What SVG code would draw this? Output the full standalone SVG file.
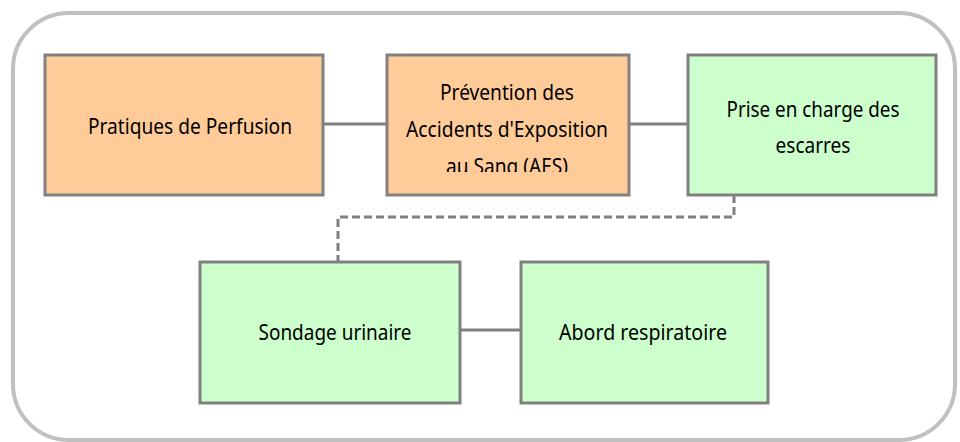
<svg xmlns="http://www.w3.org/2000/svg" width="960" height="442" viewBox="0 0 960 442">
<style>
.frame{fill:#ffffff;stroke:#c0c0c0;stroke-width:4}
.node{stroke:#808080;stroke-width:3}
.orange{fill:#ffcc99}
.green{fill:#ccffcc}
.conn{stroke:#808080;stroke-width:3;fill:none}
.dash{stroke-dasharray:8,4}
text{font-family:"Noto Sans","Open Sans",sans-serif;font-size:22px;fill:#000;text-anchor:middle}
</style>
<defs>
<clipPath id="clipAES"><rect x="387" y="55" width="242" height="117"/></clipPath>
</defs>
<rect class="frame" x="13" y="13" width="942" height="427" rx="56" ry="56"/>
<g id="connectors">
<line class="conn" x1="323" y1="124" x2="387" y2="124"/>
<line class="conn" x1="629" y1="124" x2="688" y2="124"/>
<polyline class="conn dash" points="734,195 734,217 338,217 338,262"/>
<line class="conn" x1="460" y1="330" x2="521" y2="330"/>
</g>
<g id="perfusion">
<rect class="node orange" x="45" y="55" width="278" height="140"/>
<text x="190" y="134" textLength="204" lengthAdjust="spacingAndGlyphs">Pratiques de Perfusion</text>
</g>
<g id="aes">
<rect class="node orange" x="387" y="55" width="242" height="140"/>
<g clip-path="url(#clipAES)">
<text x="507" y="100" textLength="134" lengthAdjust="spacingAndGlyphs">Prévention des</text>
<text x="507" y="137" textLength="202" lengthAdjust="spacingAndGlyphs">Accidents d'Exposition</text>
<text x="507" y="174" textLength="122" lengthAdjust="spacingAndGlyphs">au Sang (AES)</text>
</g>
</g>
<g id="escarres">
<rect class="node green" x="688" y="55" width="248" height="140"/>
<text x="813" y="117" textLength="173" lengthAdjust="spacingAndGlyphs">Prise en charge des</text>
<text x="813" y="153" textLength="75" lengthAdjust="spacingAndGlyphs">escarres</text>
</g>
<g id="sondage">
<rect class="node green" x="200" y="262" width="260" height="141"/>
<text x="335" y="340" textLength="153" lengthAdjust="spacingAndGlyphs">Sondage urinaire</text>
</g>
<g id="respiratoire">
<rect class="node green" x="521" y="262" width="247" height="141"/>
<text x="643" y="340" textLength="168" lengthAdjust="spacingAndGlyphs">Abord respiratoire</text>
</g>
</svg>
